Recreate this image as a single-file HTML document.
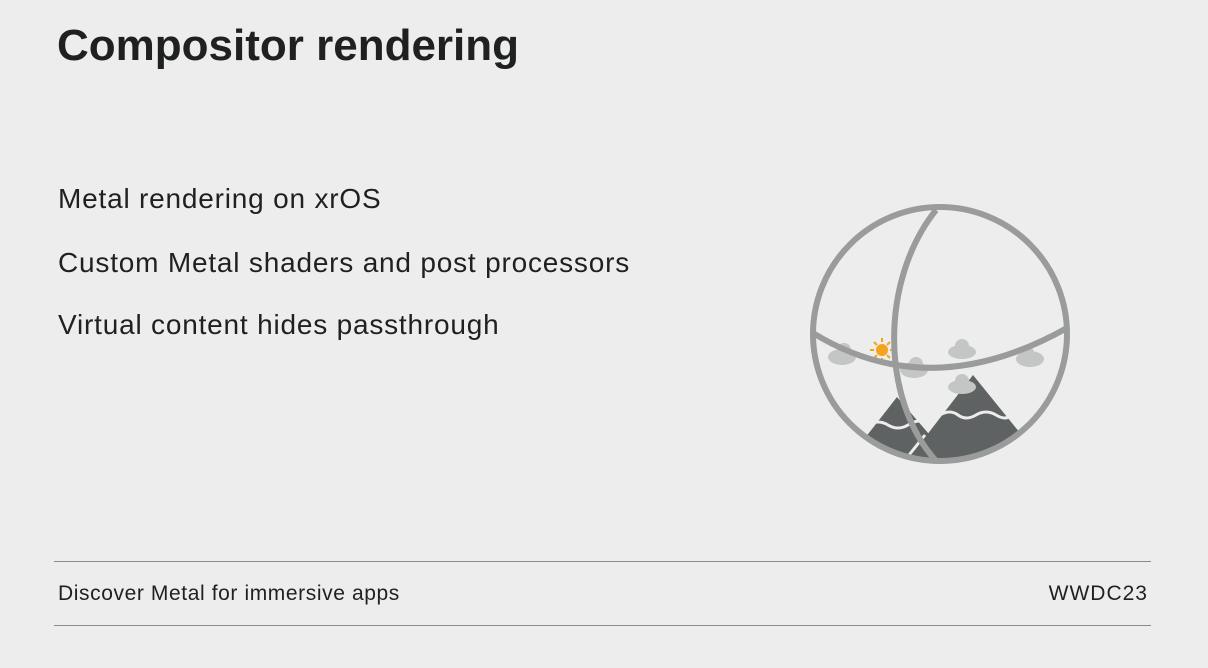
<!DOCTYPE html>
<html><head><meta charset="utf-8"><style>
html,body{margin:0;padding:0}
body{width:1208px;height:668px;background:#ecedec;position:relative;overflow:hidden;font-family:"Liberation Sans",sans-serif;color:#1f2020}
.t{position:absolute;left:57px;top:21px;font-size:44px;font-weight:bold;white-space:nowrap;letter-spacing:0px}
.b{position:absolute;left:58px;font-size:28px;white-space:nowrap;letter-spacing:0.8px}
.line{position:absolute;left:54px;width:1097px;height:1px;background:#8a8b8b}
.f{position:absolute;top:582px;font-size:21px;white-space:nowrap;letter-spacing:0.6px}
</style></head><body>
<div class="t">Compositor rendering</div>
<div class="b" style="top:183px">Metal rendering on xrOS</div>
<div class="b" style="top:247px">Custom Metal shaders and post processors</div>
<div class="b" style="top:309px">Virtual content hides passthrough</div>
<div class="line" style="top:561px"></div>
<div class="line" style="top:625px"></div>
<div class="f" style="left:58px">Discover Metal for immersive apps</div>
<div class="f" style="right:60px;letter-spacing:1px">WWDC23</div>
<svg style="position:absolute;left:0;top:0" width="1208" height="668">
<defs><clipPath id="c"><circle cx="940" cy="334" r="127"/></clipPath></defs>
<g clip-path="url(#c)">
<polygon points="897,397 840,470 960,470" fill="#5f6262"/>
<polygon points="973,375 900,470 1050,470" fill="#5f6262"/>
<path d="M868,425 q10,-6 20,0 t20,0 t15,-3" stroke="#ecedec" stroke-width="3" fill="none"/>
<path d="M940,415 q10,-6 18,0 t18,0 t20,0 t15,0" stroke="#ecedec" stroke-width="3" fill="none"/>
<path d="M905,460 l20,-25" stroke="#ecedec" stroke-width="3"/>
<g fill="#c4c6c6">
<ellipse cx="842" cy="357" rx="14" ry="8"/><circle cx="844" cy="350" r="7"/>
<ellipse cx="914" cy="370" rx="14" ry="8"/><circle cx="916" cy="364" r="7"/>
<ellipse cx="962" cy="352" rx="14" ry="7"/><circle cx="962" cy="346" r="7"/>
<ellipse cx="962" cy="387" rx="14" ry="7"/><circle cx="962" cy="381" r="7"/>
<ellipse cx="1030" cy="359" rx="14" ry="8"/><circle cx="1027" cy="353" r="7"/>
</g>
<circle cx="882" cy="350" r="6" fill="#f3a41c"/>
<g stroke="#f3a41c" stroke-width="2"><path d="M882,338v4M882,358v4M870,350h4M890,350h4M874,342l3,3M887,355l3,3M890,342l-3,3M874,358l3,-3"/></g>
</g>
<g fill="none" stroke="#9a9c9c" stroke-width="6">
<circle cx="940" cy="334" r="127"/>
<path d="M936,210 C880,280 880,400 937,462"/>
<path d="M813,333 Q930,405 1067,328"/>
</g>
</svg>
</body></html>
